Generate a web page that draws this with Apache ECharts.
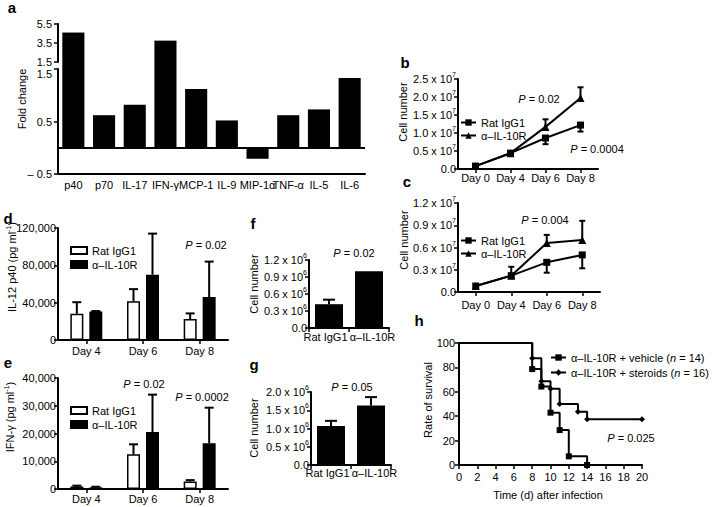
<!DOCTYPE html>
<html><head><meta charset="utf-8">
<script src="https://cdn.jsdelivr.net/npm/echarts@6/dist/echarts.min.js"></script>
<style>html,body{margin:0;padding:0;background:#fff}#c{width:716px;height:507px}</style>
</head><body><div id="c"></div>
<script>
// ---------- data ----------
const aCategories = ['p40','p70','IL-17','IFN-γ','MCP-1','IL-9','MIP-1α','TNF-α','IL-5','IL-6'];
const aFold = [4.6, 0.62, 0.82, 3.75, 1.12, 0.52, -0.21, 0.62, 0.73, 1.33];
const aUpperTicks = [1.5, 3.5, 5.5];
const aLowerTicks = [-0.5, 0.5, 1.5];
const aBreak = 1.5;

const bcDays = ['Day 0','Day 4','Day 6','Day 8'];
const bRat = [0.08, 0.44, 0.86, 1.22];      // x 10^7
const bRatErr = [0, 0, 0.17, 0.18];
const bAnti = [0.08, 0.44, 1.17, 1.97];
const bAntiErr = [0, 0, 0.21, 0.30];
const cRat = [0.08, 0.22, 0.40, 0.50];      // x 10^7
const cRatErr = [0, 0, 0.14, 0.18];
const cAnti = [0.08, 0.22, 0.66, 0.70];
const cAntiErr = [0, 0.12, 0.11, 0.26];

const deDays = ['Day 4','Day 6','Day 8'];
const dRat = [28000, 41500, 22500];
const dRatErr = [12500, 13000, 6000];
const dAnti = [30500, 70000, 46000];
const dAntiErr = [500, 44000, 38000];
const eRat = [900, 12500, 2700];
const eRatErr = [300, 3600, 500];
const eAnti = [600, 20500, 16500];
const eAntiErr = [200, 13500, 12800];

const fgCats = ['Rat IgG1', 'α–IL-10R'];
const fVals = [0.42, 1.0];     // x 10^6
const fErr = [0.08, 0];
const gVals = [1.07, 1.63];    // x 10^6
const gErr = [0.14, 0.23];

const hTimeVeh = [0, 8, 9, 10, 11, 12, 14];
const hSurvVeh = [100, 78.6, 64.3, 42.9, 28.6, 7.1, 0];
const hTimeSte = [0, 8, 9, 10, 11, 13, 14, 20];
const hSurvSte = [100, 87.5, 68.75, 62.5, 50, 43.75, 37.5, 37.5];

const legendText = {
  ratB: 'Rat IgG1', antiB: 'α–IL-10R', ratC: 'Rat IgG1', antiC: 'α–IL-10R',
  ratD: 'Rat IgG1', antiD: 'α–IL-10R', ratE: 'Rat IgG1', antiE: 'α–IL-10R',
  veh: 'α–IL-10R + vehicle ({i|n} = 14)', ste: 'α–IL-10R + steroids ({i|n} = 16)'
};

// ---------- styles ----------
const FONT = '"Liberation Sans", Arial, Helvetica, sans-serif';
const BLACK = '#000';
const axLine = {show: true, onZero: false, lineStyle: {color: BLACK, width: 2}};
const tickOut = {show: true, inside: false, length: 4, lineStyle: {color: BLACK, width: 1.5}};
const noTick = {show: false};
const supRich = {s: {fontFamily: FONT, fontSize: 7, color: BLACK, verticalAlign: 'top'}};
function lab(extra) {
  return Object.assign({show: true, fontFamily: FONT, fontSize: 11, color: BLACK}, extra || {});
}
const sci = exp => v => (v === 0 ? '0.0' : v.toFixed(1) + ' x 10{s|' + exp + '}');
const comma = v => String(v).replace(/\B(?=(\d{3})+(?!\d))/g, ',');
const fgLabel = (v, i) => (i === 0 ? '{l|' + v + '}' : '{r|' + v + '}');
const fgRich = {
  l: {fontFamily: FONT, fontSize: 11, color: BLACK, padding: [0, 7, 0, 0]},
  r: {fontFamily: FONT, fontSize: 11, color: BLACK, padding: [0, 0, 0, 7]}
};

function catX(grid, data, extra) {
  return Object.assign({type: 'category', gridIndex: grid, data: data, axisLine: axLine,
    splitLine: {show: false}}, extra);
}
function valY(grid, extra) {
  return Object.assign({type: 'value', gridIndex: grid, axisLine: axLine, axisTick: tickOut,
    splitLine: {show: false}}, extra);
}

function errorBars(xi, yi, vals, errs, dir, offsetPx, capW) {
  return {
    type: 'custom', xAxisIndex: xi, yAxisIndex: yi, silent: true, z: 4,
    encode: {x: 0, y: 1},
    data: vals.map((v, i) => [i, v, errs[i]]),
    renderItem: function (params, api) {
      const i = api.value(0), v = api.value(1), e = api.value(2);
      if (!e) return null;
      const p = api.coord([i, v]);
      const q = api.coord([i, v + dir * e]);
      const x = p[0] + offsetPx;
      return {type: 'group', children: [
        {type: 'line', shape: {x1: x, y1: p[1], x2: x, y2: q[1]}, style: {stroke: BLACK, lineWidth: 2}},
        {type: 'line', shape: {x1: x - capW / 2, y1: q[1], x2: x + capW / 2, y2: q[1]}, style: {stroke: BLACK, lineWidth: 2}}
      ]};
    }
  };
}

function lineSeries(name, xi, vals, symbol, size) {
  return {name: name, type: 'line', xAxisIndex: xi, yAxisIndex: xi, data: vals, z: 3,
    symbol: symbol, symbolSize: size, showAllSymbol: true,
    lineStyle: {color: BLACK, width: 2}, itemStyle: {color: BLACK}};
}

function gText(text, x, y, o) {
  o = o || {};
  const size = o.size || 11;
  const style = {text: text, fill: BLACK, fontFamily: FONT, fontSize: size,
    fontWeight: o.bold ? 'bold' : 'normal',
    align: 'center', verticalAlign: 'middle', textAlign: 'center', textVerticalAlign: 'middle',
    rich: {
      i: {fontFamily: FONT, fontSize: size, fontStyle: 'italic', fill: BLACK},
      s: {fontFamily: FONT, fontSize: 7, fill: BLACK, verticalAlign: 'top'}
    }};
  if (o.lh) style.lineHeight = o.lh;
  return {type: 'text', x: x, y: y, rotation: o.rot || 0, silent: true, z: 100, style: style};
}

function leg(name, left, top, extra) {
  return Object.assign({
    data: [name], left: left, top: top, orient: 'horizontal', padding: 0, itemGap: 0,
    itemWidth: 15, itemHeight: 8, selectedMode: false,
    textStyle: {fontFamily: FONT, fontSize: 11, color: BLACK, lineHeight: 11,
      rich: {i: {fontFamily: FONT, fontSize: 11, fontStyle: 'italic', color: BLACK, lineHeight: 11}}},
    formatter: n => legendText[n]
  }, extra || {});
}

const upperOnly = aFold.map(v => (v > aBreak ? v : '-'));
const ROT = Math.PI / 2;

const option = {
  animation: false,
  backgroundColor: '#fff',
  grid: [
    {left: 58, top: 24, width: 307, height: 38},   // 0 a upper
    {left: 58, top: 62, width: 307, height: 7},    // 1 a bridge
    {left: 58, top: 69, width: 307, height: 105},  // 2 a lower
    {left: 458, top: 79, width: 140, height: 90},  // 3 b
    {left: 458, top: 203, width: 142, height: 89}, // 4 c
    {left: 58, top: 228, width: 170, height: 112}, // 5 d
    {left: 58, top: 378, width: 170, height: 111}, // 6 e
    {left: 309, top: 260, width: 80, height: 68},  // 7 f
    {left: 311, top: 392, width: 80, height: 73},  // 8 g
    {left: 459, top: 343, width: 183, height: 122} // 9 h
  ],
  xAxis: [
    {type: 'category', gridIndex: 0, data: aCategories, show: false},
    {type: 'category', gridIndex: 1, data: aCategories, show: false},
    catX(2, aCategories, {axisTick: noTick, axisLabel: lab({interval: 0, margin: 5})}),
    catX(3, bcDays, {axisTick: Object.assign({alignWithLabel: true}, tickOut), axisLabel: lab({interval: 0, margin: 3})}),
    catX(4, bcDays, {axisTick: Object.assign({alignWithLabel: true}, tickOut), axisLabel: lab({interval: 0, margin: 7})}),
    catX(5, deDays, {axisTick: Object.assign({alignWithLabel: true}, tickOut), axisLabel: lab({interval: 0, margin: 5})}),
    catX(6, deDays, {axisTick: Object.assign({alignWithLabel: true}, tickOut), axisLabel: lab({interval: 0, margin: 4})}),
    catX(7, fgCats, {axisTick: tickOut, axisLabel: lab({interval: 0, margin: 3, formatter: fgLabel, rich: fgRich})}),
    catX(8, fgCats, {axisTick: tickOut, axisLabel: lab({interval: 0, margin: 2, formatter: fgLabel, rich: fgRich})}),
    {type: 'value', gridIndex: 9, min: 0, max: 20, interval: 2, axisLine: axLine, axisTick: tickOut,
      splitLine: {show: false}, axisLabel: lab({margin: 6})}
  ],
  yAxis: [
    valY(0, {min: 1.5, max: 5.5,
      axisTick: Object.assign({customValues: aUpperTicks}, tickOut),
      axisLabel: lab({customValues: aUpperTicks, margin: 6})}),
    {type: 'value', gridIndex: 1, min: 1.0, max: 1.5, show: false},
    valY(2, {min: -0.5, max: 1.5,
      axisTick: Object.assign({customValues: aLowerTicks}, tickOut),
      axisLabel: lab({customValues: aLowerTicks, margin: 6,
        formatter: v => (v === 1.5 ? '{d|1.5}' : (v < 0 ? '– ' + (-v) : String(v))),
        rich: {d: {fontFamily: FONT, fontSize: 11, color: BLACK, padding: [9, 0, 0, 0]}}})}),
    valY(3, {min: 0, max: 2.5, interval: 0.5, axisLabel: lab({margin: 2, lineHeight: 16, formatter: sci(7), rich: supRich})}),
    valY(4, {min: 0, max: 1.2, interval: 0.3, axisLabel: lab({margin: 2, lineHeight: 16, formatter: sci(7), rich: supRich})}),
    valY(5, {min: 0, max: 120000, interval: 40000, axisLabel: lab({margin: 2, formatter: comma})}),
    valY(6, {min: 0, max: 40000, interval: 10000, axisLabel: lab({margin: 2, formatter: comma})}),
    valY(7, {min: 0, max: 1.2, interval: 0.3, axisLabel: lab({margin: 2, lineHeight: 16, formatter: sci(6), rich: supRich})}),
    valY(8, {min: 0, max: 2.0, interval: 0.5, axisLabel: lab({margin: 2, lineHeight: 16, formatter: sci(6), rich: supRich})}),
    valY(9, {min: 0, max: 100, interval: 20, axisLabel: lab({margin: 4})})
  ],
  legend: [
    leg('ratB', 460, 117), leg('antiB', 460, 130),
    leg('ratC', 460, 235), leg('antiC', 460, 248),
    leg('ratD', 70, 245, {icon: 'rect', itemWidth: 16, itemHeight: 7}),
    leg('antiD', 70, 259, {icon: 'rect', itemWidth: 16, itemHeight: 7}),
    leg('ratE', 70, 405, {icon: 'rect', itemWidth: 16, itemHeight: 7}),
    leg('antiE', 70, 419, {icon: 'rect', itemWidth: 16, itemHeight: 7}),
    leg('veh', 550, 352), leg('ste', 550, 367)
  ],
  series: [
    // a
    {type: 'bar', xAxisIndex: 2, yAxisIndex: 2, data: aFold, barWidth: '72%', itemStyle: {color: BLACK},
      markLine: {silent: true, symbol: 'none', label: {show: false},
        lineStyle: {color: BLACK, width: 2, type: 'solid'}, data: [{yAxis: 0}]}},
    {type: 'bar', xAxisIndex: 1, yAxisIndex: 1, data: upperOnly, barWidth: '72%', itemStyle: {color: BLACK}},
    {type: 'bar', xAxisIndex: 0, yAxisIndex: 0, data: upperOnly, barWidth: '72%', itemStyle: {color: BLACK}},
    // b
    lineSeries('ratB', 3, bRat, 'rect', 7),
    lineSeries('antiB', 3, bAnti, 'triangle', 8),
    errorBars(3, 3, bRat, bRatErr, -1, 0, 6),
    errorBars(3, 3, bAnti, bAntiErr, 1, 0, 6),
    // c
    lineSeries('ratC', 4, cRat, 'rect', 7),
    lineSeries('antiC', 4, cAnti, 'triangle', 8),
    errorBars(4, 4, cRat, cRatErr, -1, 0, 6),
    errorBars(4, 4, cAnti, cAntiErr, 1, 0, 6),
    // d
    {name: 'ratD', type: 'bar', xAxisIndex: 5, yAxisIndex: 5, data: dRat, barWidth: 13, barGap: '46%',
      itemStyle: {color: '#fff', borderColor: BLACK, borderWidth: 1.5}},
    {name: 'antiD', type: 'bar', xAxisIndex: 5, yAxisIndex: 5, data: dAnti, barWidth: 13, barGap: '46%',
      itemStyle: {color: BLACK, borderColor: BLACK, borderWidth: 1.5}},
    errorBars(5, 5, dRat, dRatErr, 1, -9.5, 9),
    errorBars(5, 5, dAnti, dAntiErr, 1, 9.5, 9),
    // e
    {name: 'ratE', type: 'bar', xAxisIndex: 6, yAxisIndex: 6, data: eRat, barWidth: 13, barGap: '46%',
      itemStyle: {color: '#fff', borderColor: BLACK, borderWidth: 1.5}},
    {name: 'antiE', type: 'bar', xAxisIndex: 6, yAxisIndex: 6, data: eAnti, barWidth: 13, barGap: '46%',
      itemStyle: {color: BLACK, borderColor: BLACK, borderWidth: 1.5}},
    errorBars(6, 6, eRat, eRatErr, 1, -9.5, 9),
    errorBars(6, 6, eAnti, eAntiErr, 1, 9.5, 9),
    // f, g
    {type: 'bar', xAxisIndex: 7, yAxisIndex: 7, data: fVals, barWidth: '70%', itemStyle: {color: BLACK}},
    errorBars(7, 7, fVals, fErr, 1, 0, 12),
    {type: 'bar', xAxisIndex: 8, yAxisIndex: 8, data: gVals, barWidth: '70%', itemStyle: {color: BLACK}},
    errorBars(8, 8, gVals, gErr, 1, 0, 12),
    // h
    {name: 'veh', type: 'line', xAxisIndex: 9, yAxisIndex: 9, step: 'end', z: 3,
      data: hTimeVeh.map((t, i) => (i === 0 ? {value: [t, hSurvVeh[i]], symbol: 'none'} : [t, hSurvVeh[i]])),
      symbol: 'rect', symbolSize: 6, lineStyle: {color: BLACK, width: 2}, itemStyle: {color: BLACK}},
    {name: 'ste', type: 'line', xAxisIndex: 9, yAxisIndex: 9, step: 'end', z: 3,
      data: hTimeSte.map((t, i) => (i === 0 ? {value: [t, hSurvSte[i]], symbol: 'none'} : [t, hSurvSte[i]])),
      symbol: 'diamond', symbolSize: 6, lineStyle: {color: BLACK, width: 2}, itemStyle: {color: BLACK}}
  ],
  graphic: [
    gText('a', 12, 7, {bold: true, size: 15}),
    gText('b', 405, 62, {bold: true, size: 15}),
    gText('c', 407, 181, {bold: true, size: 15}),
    gText('d', 8, 218, {bold: true, size: 15}),
    gText('e', 8, 362, {bold: true, size: 15}),
    gText('f', 253, 223, {bold: true, size: 15}),
    gText('g', 254, 364, {bold: true, size: 15}),
    gText('h', 419, 320, {bold: true, size: 15}),
    gText('{i|P} = 0.02', 539, 99),
    gText('{i|P} = 0.0004', 597, 149),
    gText('{i|P} = 0.004', 545, 220),
    gText('{i|P} = 0.02', 206, 245),
    gText('{i|P} = 0.02', 144, 384),
    gText('{i|P} = 0.0002', 202, 397),
    gText('{i|P} = 0.02', 354, 253),
    gText('{i|P} = 0.05', 352, 387),
    gText('{i|P} = 0.025', 631, 438),
    gText('Fold change', 22, 99, {rot: ROT}),
    gText('Cell number', 403, 112, {rot: ROT}),
    gText('Cell number', 404, 240, {rot: ROT}),
    gText('Cell number', 254, 284, {rot: ROT}),
    gText('Cell number', 254, 428, {rot: ROT}),
    gText('IL-12 p40 (pg ml{s|-1})', 12, 267, {rot: ROT, lh: 15}),
    gText('IFN-γ (pg ml{s|-1})', 10, 417, {rot: ROT, lh: 15}),
    gText('Rate of survival', 428, 400, {rot: ROT}),
    gText('Time (d) after infection', 548, 495)
  ]
};

const chart = echarts.init(document.getElementById('c'), null, {renderer: 'svg', width: 716, height: 507});
chart.setOption(option);
</script></body></html>
